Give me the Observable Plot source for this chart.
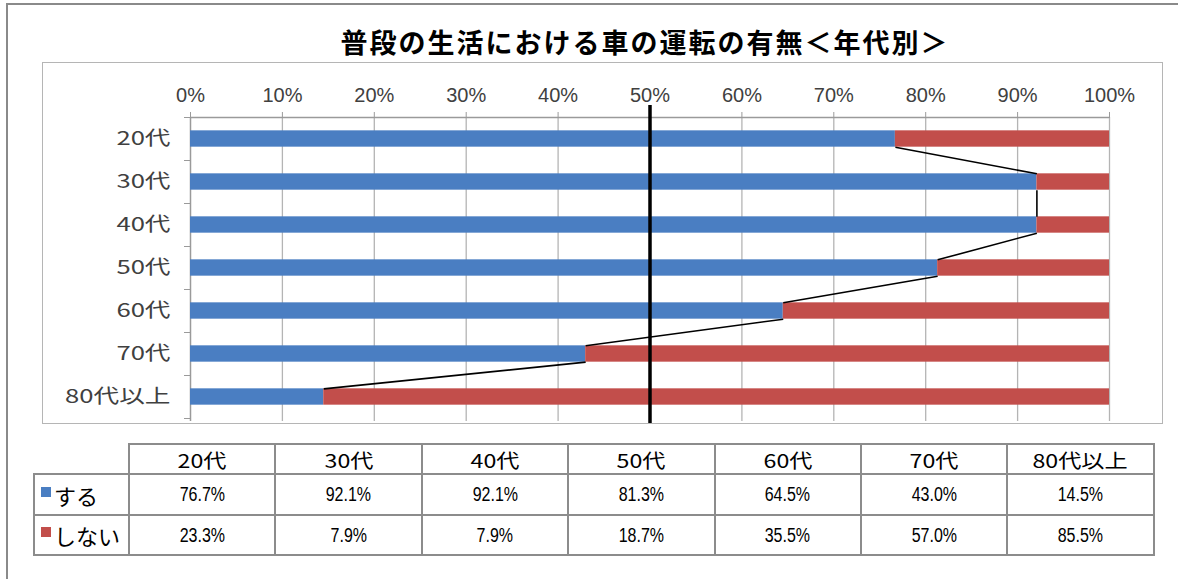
<!DOCTYPE html>
<html><head><meta charset="utf-8">
<script src="https://cdn.jsdelivr.net/npm/d3@7"></script>
<script src="https://cdn.jsdelivr.net/npm/@observablehq/plot@0.6"></script>
<style>
body{margin:0;background:#fff;width:1178px;height:579px;overflow:hidden;position:relative;font-family:"Noto Sans CJK JP","Noto Sans",sans-serif;}
#outer{position:absolute;left:6px;top:3px;width:1200px;height:620px;border:2px solid #8a8a8a;box-sizing:border-box;}
#title{position:absolute;left:245px;width:800px;top:22px;text-align:center;font-size:27px;font-weight:bold;letter-spacing:2px;line-height:40px;white-space:nowrap;color:#000;}
#box{position:absolute;left:42px;top:62px;width:1121px;height:362px;border:1.5px solid #b5b5b5;box-sizing:border-box;}
#chart{position:absolute;left:0;top:0;}
#tbl{position:absolute;left:33px;top:443px;border-collapse:collapse;table-layout:fixed;}
#tbl td{border:2px solid #8c8c8c;padding:0;text-align:center;white-space:nowrap;}
#tbl td.hd{font-size:19px;height:28px;color:#000;}
#tbl td.hd span{display:inline-block;transform:scaleX(1.22);}
#tbl td.corner{border-top:none;border-left:none;}
#tbl td.lab{text-align:left;font-size:22px;padding-left:6px;color:#000;}
#tbl td.val{font-family:"Liberation Sans",Arial,sans-serif;font-size:20px;color:#000;}
#tbl td.val span{display:inline-block;transform:scaleX(0.8);}
.mk{display:inline-block;width:10px;height:10px;vertical-align:8px;margin-right:3px;}
</style></head>
<body>
<div id="outer"></div>
<div id="title">普段の生活における車の運転の有無＜年代別＞</div>
<div id="box"></div>
<div id="chart"></div>
<table id="tbl"></table>
<script>
const ages = ["20代","30代","40代","50代","60代","70代","80代以上"];
const seriesNames = ["する","しない"];
const yesVals = [76.7,92.1,92.1,81.3,64.5,43.0,14.5];
const noVals = [23.3,7.9,7.9,18.7,35.5,57.0,85.5];
const xTicks = [0,10,20,30,40,50,60,70,80,90,100];
const colors = ["#4a7ec2","#c24e4b"];
const refLine = 50;

const rows = ages.map((a,i)=>({i, age:a, yes:yesVals[i], no:noVals[i]}));
const h = 0.19;
const yDomain = [-0.5, ages.length - 0.5];
const bounds = d3.range(ages.length + 1).map(k => k - 0.5);
const pairs = rows.slice(0,-1).map((d,k)=>({x1:d.yes, y1:d.i + h, x2:rows[k+1].yes, y2:rows[k+1].i - h}));

const chart = Plot.plot({
  width: 1178, height: 440,
  marginTop: 117, marginBottom: 22, marginLeft: 190, marginRight: 69,
  x: {domain:[0,100], axis:null},
  y: {domain: yDomain, reverse:true, axis:null},
  style: {fontFamily: '"Noto Sans CJK JP", sans-serif', background:"transparent"},
  marks: [
    Plot.ruleX(xTicks, {stroke:"#b4b4b4", strokeWidth:1.3, insetBottom:-3}),
    Plot.ruleY([yDomain[0]], {stroke:"#9a9a9a", strokeWidth:1.3}),
    Plot.ruleX([0], {stroke:"#9a9a9a", strokeWidth:1.3, insetBottom:-3}),
    Plot.axisX({anchor:"top", ticks:xTicks, tickFormat:d=>d+"%", tickSize:6, tickPadding:10,
      fontSize:20, fill:"#404040", stroke:"#9a9a9a", fontFamily:'"Liberation Sans", Arial, sans-serif', label:null}),
    Plot.axisY(bounds, {anchor:"left", tickSize:6, tickFormat:()=>"", stroke:"#9a9a9a", label:null}),
    Plot.axisY(d3.range(ages.length), {anchor:"left", tickSize:0, tickPadding:20, tickFormat:i=>ages[i],
      fontSize:19, fill:"#404040", label:null}),
    Plot.rectX(rows, {x1:0, x2:"yes", y1:d=>d.i-h, y2:d=>d.i+h, fill:colors[0]}),
    Plot.rectX(rows, {x1:"yes", x2:d=>d.yes+d.no, y1:d=>d.i-h, y2:d=>d.i+h, fill:colors[1]}),
    Plot.link(pairs, {x1:"x1", y1:"y1", x2:"x2", y2:"y2", stroke:"#000", strokeWidth:1.6}),
    Plot.ruleX([refLine], {stroke:"#000", strokeWidth:3.5, insetTop:-12, insetBottom:-5})
  ]
});
document.getElementById("chart").appendChild(chart);
// horizontally stretch the category labels like the original
const ageSet = new Set(ages);
d3.select(chart).selectAll("text").each(function(){
  if (!ageSet.has(this.textContent)) return;
  const w = this.getComputedTextLength();
  if (w > 0) { this.setAttribute("textLength", (w*1.35).toFixed(1)); this.setAttribute("lengthAdjust","spacingAndGlyphs"); }
});

// table
const tbl = d3.select("#tbl");
const cg = tbl.append("colgroup");
cg.append("col").style("width","95px");
ages.forEach(()=>cg.append("col").style("width","146.4px"));
const hr = tbl.append("tr");
hr.append("td").attr("class","corner");
ages.forEach(a=>hr.append("td").attr("class","hd").append("span").text(a));
[yesVals,noVals].forEach((vals,s)=>{
  const tr = tbl.append("tr").style("height", s===0 ? "41px" : "40px");
  const lab = tr.append("td").attr("class","lab");
  lab.append("span").attr("class","mk").style("background",colors[s]);
  lab.append("span").text(seriesNames[s]);
  vals.forEach(v=>tr.append("td").attr("class","val").append("span").text(v.toFixed(1)+"%"));
});
</script>
</body></html>
